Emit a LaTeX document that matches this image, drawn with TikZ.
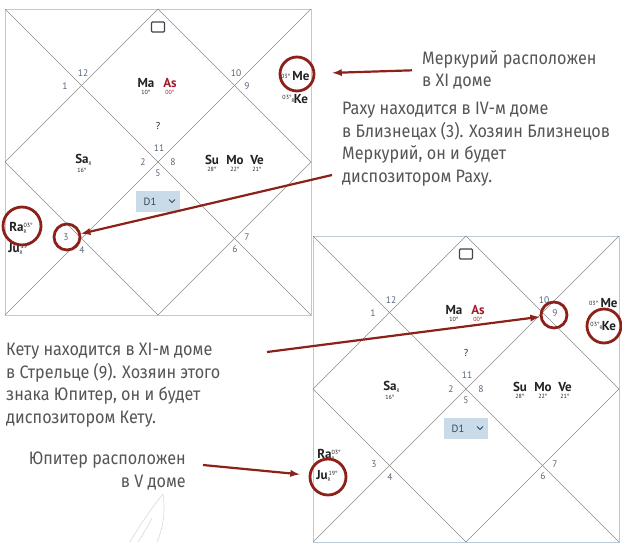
\documentclass[tikz,border=0pt]{standalone}
\usepackage{fontspec}
\setmainfont{PT Sans}
\newfontfamily\notefont[FakeStretch=0.9]{Fira Sans}
\usetikzlibrary{positioning}

\definecolor{framegrey}{HTML}{B9CAD9}
\definecolor{linegrey}{HTML}{8C8C8C}
\definecolor{housegrey}{HTML}{56677A}
\definecolor{inkdark}{HTML}{222222}
\definecolor{asred}{HTML}{A01C2C}
\definecolor{icongrey}{HTML}{3E4650}
\definecolor{selblue}{HTML}{C9DBE9}
\definecolor{seltext}{HTML}{34465A}
\definecolor{pointred}{HTML}{8B2119}
\definecolor{notegrey}{HTML}{555555}
\definecolor{feathergrey}{HTML}{DADADA}

% small retrograde mark and degree
\newcommand{\rsub}{\rlap{\raisebox{-2.5pt}{\fontsize{5}{5}\selectfont\mdseries R}}}
\newcommand{\rsup}[1]{\raisebox{3.5pt}{\fontsize{6}{6}\selectfont\mdseries #1}}

\begin{document}
\begin{tikzpicture}[
    x=1pt, y=-1pt,
    frame/.style={draw=framegrey, fill=white, line width=0.8pt},
    grid/.style={draw=linegrey, line width=0.6pt},
    house/.style={text=housegrey, font=\fontsize{9.5}{10}\selectfont, inner sep=0pt},
    planet/.style={text=inkdark, font=\bfseries\fontsize{13}{13}\selectfont, inner sep=0pt},
    deg/.style={text=inkdark, font=\fontsize{6}{6}\selectfont, inner sep=0pt},
    ring/.style={circle, draw=pointred, line width=2.8pt, inner sep=0pt},
    pointer/.style={draw=pointred, line width=2.2pt, -latex},
    note/.style={text=notegrey, font=\notefont\fontsize{18}{22.5}\selectfont, inner sep=0pt, align=left},
    feather/.style={draw=feathergrey, line width=0.6pt}
]
\fill[white] (0,0) rectangle (622,542);
\useasboundingbox (0,0) rectangle (622,542);

% the two charts
\foreach \k/\cx/\cy in {1/158/162, 2/466/389} {
  \begin{scope}[shift={(\cx,\cy)}]
    \draw[frame] (-153,-153) rectangle (153,153);
    \draw[grid] (-153,-153) -- (153,153) (-153,153) -- (153,-153);
    \draw[grid] (0,-153) -- (153,0) -- (0,153) -- (-153,0) -- cycle;
    \draw[icongrey, line width=1.1pt, rounded corners=1pt] (-6.5,-140) rectangle (6.5,-130);
    % house numbers
    \foreach \n/\hx/\hy in {12/-75/-89, 1/-93/-76, 10/78/-89, 9/89/-76,
                            11/1/-14, 2/-15/0, 8/15/0, 5/0/11,
                            3/-92/75, 4/-76/88, 7/89/75, 6/77/87}
      \node[house] (h\k-\n) at (\hx,\hy) {\n};
    % planets
    \node[planet] (ma\k) at (-12,-79) {Ma};
    \node[deg, below=2pt of ma\k] {10°};
    \node[planet, text=asred] (as\k) at (12,-79) {As};
    \node[deg, text=asred, below=2pt of as\k] {00°};
    \node[planet, font=\fontsize{10}{10}\selectfont] (q\k) at (0,-36) {?};
    \node[planet] (sa\k) at (-76,-2) {Sa\rsub};
    \node[deg, below=2pt of sa\k] {16°};
    \node[planet] (su\k) at (54,-2) {Su};
    \node[deg, below=2pt of su\k] {28°};
    \node[planet] (mo\k) at (77,-2) {Mo};
    \node[deg, below=2pt of mo\k] {22°};
    \node[planet] (ve\k) at (99,-2) {Ve};
    \node[deg, below=2pt of ve\k] {21°};
    \node[planet] (me\k) at (143,-86) {Me};
    \node[deg, left=2pt of me\k] {03°};
    \node[planet] (ke\k) at (143,-63) {Ke};
    \node[deg, left=2pt of ke\k] {03°\rsub\hspace{2pt}};
    \node[planet] (ra\k) at (-137,66) {Ra\rsub\rsup{03°}};
    \node[planet] (ju\k) at (-139,87) {Ju\rsub\rsup{\hspace{1pt}19°}};
    % chart selector
    \node[fill=selblue, minimum width=44pt, minimum height=21pt, inner sep=0pt] (sel\k) at (0,39.5) {};
    \node[text=seltext, font=\fontsize{10.5}{10.5}\selectfont, inner sep=0pt] (d1\k) at (-8,39.5) {D1};
    \draw[seltext, line width=1pt] (11,37.5) -- (14,40.5) -- (17,37.5);
  \end{scope}
}

% rings
\node[ring, minimum size=34pt] (ring-me) at (297,74) {};
\node[ring, minimum size=38pt] (ring-ra) at (22,226) {};
\node[ring, minimum size=26pt] (ring-h3) at (67,237) {};
\node[ring, minimum size=26pt] (ring-h9) at (554,315) {};
\node[ring, minimum size=34pt] (ring-ke) at (604,326) {};
\node[ring, minimum size=36pt] (ring-ju) at (328,477) {};

% notes
\node[note, anchor=west] (note-me) at (422,70) {Меркурий расположен\\в XI доме};
\node[note, anchor=west] (note-ra) at (342,144) {Раху находится в IV-м доме\\в Близнецах (3). Хозяин Близнецов\\Меркурий, он и будет\\диспозитором Раху.};
\node[note, anchor=west] (note-ke) at (6,385) {Кету находится в XI-м доме\\в Стрельце (9). Хозяин этого\\знака Юпитер, он и будет\\диспозитором Кету.};
\node[note, anchor=east, align=right] (note-ju) at (186,471) {Юпитер расположен\\в V доме};

% arrows
\draw[pointer, shorten <=10pt, shorten >=17pt] (note-me.west) -- (ring-me);
\coordinate (tail-ra) at (332,175);
\draw[pointer] (tail-ra) -- (ring-h3);
\coordinate (tail-ke) at (267,352);
\draw[pointer] (tail-ke) -- (ring-h9);
\coordinate (tail-ju) at (203,465);
\draw[pointer, shorten >=9pt] (tail-ju) -- (ring-ju);

% faint feather
\draw[feather] (163,494) .. controls (150,510) and (138,528) .. (130,542);
\draw[feather] (163,494) .. controls (166,515) and (162,530) .. (157,542);
\draw[feather] (152,518) .. controls (147,528) and (142,536) .. (138,542);
\end{tikzpicture}
\end{document}
